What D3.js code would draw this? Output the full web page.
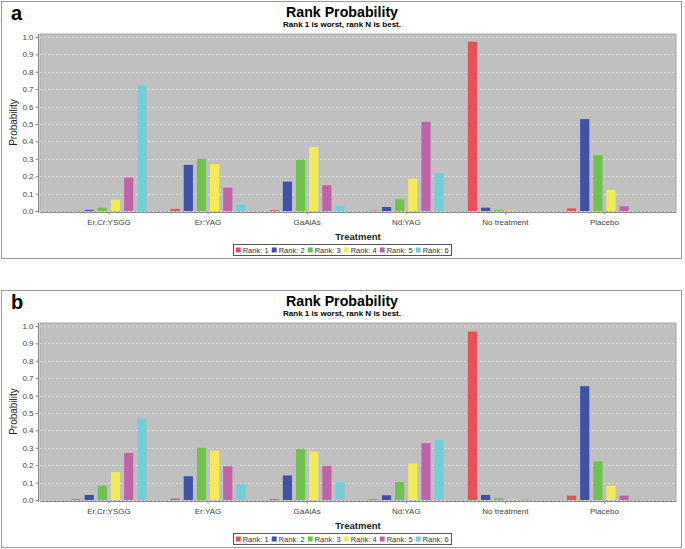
<!DOCTYPE html>
<html><head><meta charset="utf-8">
<script src="https://cdn.jsdelivr.net/npm/d3@7"></script>
<style>
html,body{margin:0;padding:0;background:#fff;}
svg{display:block;font-family:"Liberation Sans",Arial,sans-serif;}
</style></head>
<body>
<svg id="chart" width="685" height="549"></svg>
<script>
const treatments = ["Er,Cr:YSGG","Er:YAG","GaAlAs","Nd:YAG","No treatment","Placebo"];
const ranks = ["Rank: 1","Rank: 2","Rank: 3","Rank: 4","Rank: 5","Rank: 6"];
const rankColors = ["#e94f57","#4052a8","#6fc24b","#f3ea57","#c064aa","#72cfda"];
const yTicks = [0,0.1,0.2,0.3,0.4,0.5,0.6,0.7,0.8,0.9,1.0];

// Panel a: probability of each rank for each treatment
const aRank1 = [0.001, 0.012, 0.005, 0.002, 0.973, 0.015];
const aRank2 = [0.006, 0.265, 0.169, 0.023, 0.019, 0.528];
const aRank3 = [0.019, 0.300, 0.294, 0.067, 0.006, 0.320];
const aRank4 = [0.065, 0.269, 0.368, 0.186, 0.002, 0.121];
const aRank5 = [0.192, 0.134, 0.148, 0.512, 0.001, 0.027];
const aRank6 = [0.722, 0.036, 0.029, 0.217, 0.000, 0.002];

// Panel b
const bRank1 = [0.004, 0.008, 0.005, 0.004, 0.968, 0.025];
const bRank2 = [0.029, 0.137, 0.141, 0.027, 0.029, 0.654];
const bRank3 = [0.082, 0.300, 0.293, 0.103, 0.011, 0.222];
const bRank4 = [0.160, 0.283, 0.278, 0.209, 0.003, 0.082];
const bRank5 = [0.270, 0.194, 0.196, 0.327, 0.002, 0.025];
const bRank6 = [0.468, 0.091, 0.103, 0.344, 0.000, 0.005];

const svg = d3.select("#chart");

function drawPanel(offsetY, letter, series) {
  const g = svg.append("g").attr("transform", `translate(0,${offsetY})`);
  // frame
  g.append("rect").attr("x",1.5).attr("y",1.5).attr("width",680).attr("height",257)
    .attr("fill","#fff").attr("stroke","#9a9a9a").attr("stroke-width",1);
  // letter
  g.append("text").attr("x",11).attr("y",20).attr("font-size",20).attr("font-weight","bold")
    .attr("font-family","'Liberation Sans',Arial,sans-serif").text(letter);
  // title
  g.append("text").attr("x",342).attr("y",17).attr("text-anchor","middle")
    .attr("font-size",15).attr("font-weight","bold")
    .attr("textLength",112).attr("lengthAdjust","spacingAndGlyphs").text("Rank Probability");
  g.append("text").attr("x",342).attr("y",26.5).attr("text-anchor","middle")
    .attr("font-size",7.5).attr("font-weight","bold")
    .attr("textLength",118).attr("lengthAdjust","spacingAndGlyphs").text("Rank 1 is worst, rank N is best.");

  const left = 40, right = 676, top = 34, bottom = 211;
  const y = d3.scaleLinear().domain([0, 1.017]).range([bottom, top]);
  const x0 = d3.scaleBand().domain(treatments).range([59.4, 654]).padding(0);
  const x1 = d3.scaleBand().domain(ranks).range([-37.5, 37.5]).paddingInner(0.3);

  // plot background
  g.append("rect").attr("x",left).attr("y",top).attr("width",right-left).attr("height",bottom-top+1)
    .attr("fill","#c0c0c0").attr("stroke","#a8a8a8").attr("stroke-width",1);

  // gridlines
  g.append("g").selectAll("line").data(yTicks).join("line")
    .attr("x1",left).attr("x2",right)
    .attr("y1",d=>Math.round(y(d))+0.5).attr("y2",d=>Math.round(y(d))+0.5)
    .attr("stroke","#ececec").attr("stroke-width",0.6).attr("stroke-dasharray","2,2");

  // bars
  const cells = [];
  treatments.forEach((t,i)=>{ ranks.forEach((r,j)=>{ cells.push({t, r, j, v: series[j][i]}); }); });
  g.append("g").selectAll("rect").data(cells).join("rect")
    .attr("x", d => x0(d.t) + x0.bandwidth()/2 + x1(d.r))
    .attr("width", x1.bandwidth())
    .attr("y", d => y(d.v))
    .attr("height", d => Math.max(0, y(0) - y(d.v)))
    .attr("fill", d => rankColors[d.j]);

  // y axis
  const yAxis = d3.axisLeft(y).tickValues(yTicks).tickFormat(d3.format(".1f")).tickSize(3).tickPadding(2);
  const ya = g.append("g").attr("transform",`translate(${left-1.5},0)`).call(yAxis);
  ya.select(".domain").attr("stroke","#888").attr("d",`M0,${top}V${bottom+2}`);
  ya.selectAll(".tick line").attr("stroke","#888");
  ya.selectAll(".tick text").attr("font-size",8).attr("fill","#444")
    .attr("font-family","'Liberation Sans',Arial,sans-serif");

  // x axis
  const xAxis = d3.axisBottom(x0).tickSize(2).tickPadding(5);
  const xa = g.append("g").attr("transform",`translate(0,${bottom+1.5})`).call(xAxis);
  xa.select(".domain").attr("stroke","#888").attr("d",`M${left},0H${right}`);
  xa.selectAll(".tick line").attr("stroke","#888");
  xa.selectAll(".tick text").attr("font-size",8).attr("fill","#444")
    .attr("font-family","'Liberation Sans',Arial,sans-serif");

  // axis titles
  g.append("text").attr("transform",`translate(17,${(top+bottom)/2}) rotate(-90)`)
    .attr("text-anchor","middle").attr("font-size",10).attr("fill","#222").text("Probability");
  g.append("text").attr("x",(left+right)/2).attr("y",239.5).attr("text-anchor","middle")
    .attr("font-size",9.5).attr("font-weight","bold").attr("fill","#222").text("Treatment");

  // legend
  const lg = g.append("g");
  lg.append("rect").attr("x",233.5).attr("y",244.5).attr("width",218).attr("height",11)
    .attr("fill","#fff").attr("stroke","#555").attr("stroke-width",1);
  const items = lg.selectAll("g.item").data(ranks).join("g").attr("class","item")
    .attr("transform",(d,i)=>`translate(${235.7 + i*36},0)`);
  items.append("rect").attr("x",0).attr("y",247.5).attr("width",5).attr("height",5)
    .attr("fill",(d,i)=>rankColors[i]);
  items.append("text").attr("x",7).attr("y",253.3).attr("font-size",7.5).attr("fill","#333")
    .text(d=>d);
}

drawPanel(0, "a", [aRank1,aRank2,aRank3,aRank4,aRank5,aRank6]);
drawPanel(289, "b", [bRank1,bRank2,bRank3,bRank4,bRank5,bRank6]);
</script>
</body></html>
